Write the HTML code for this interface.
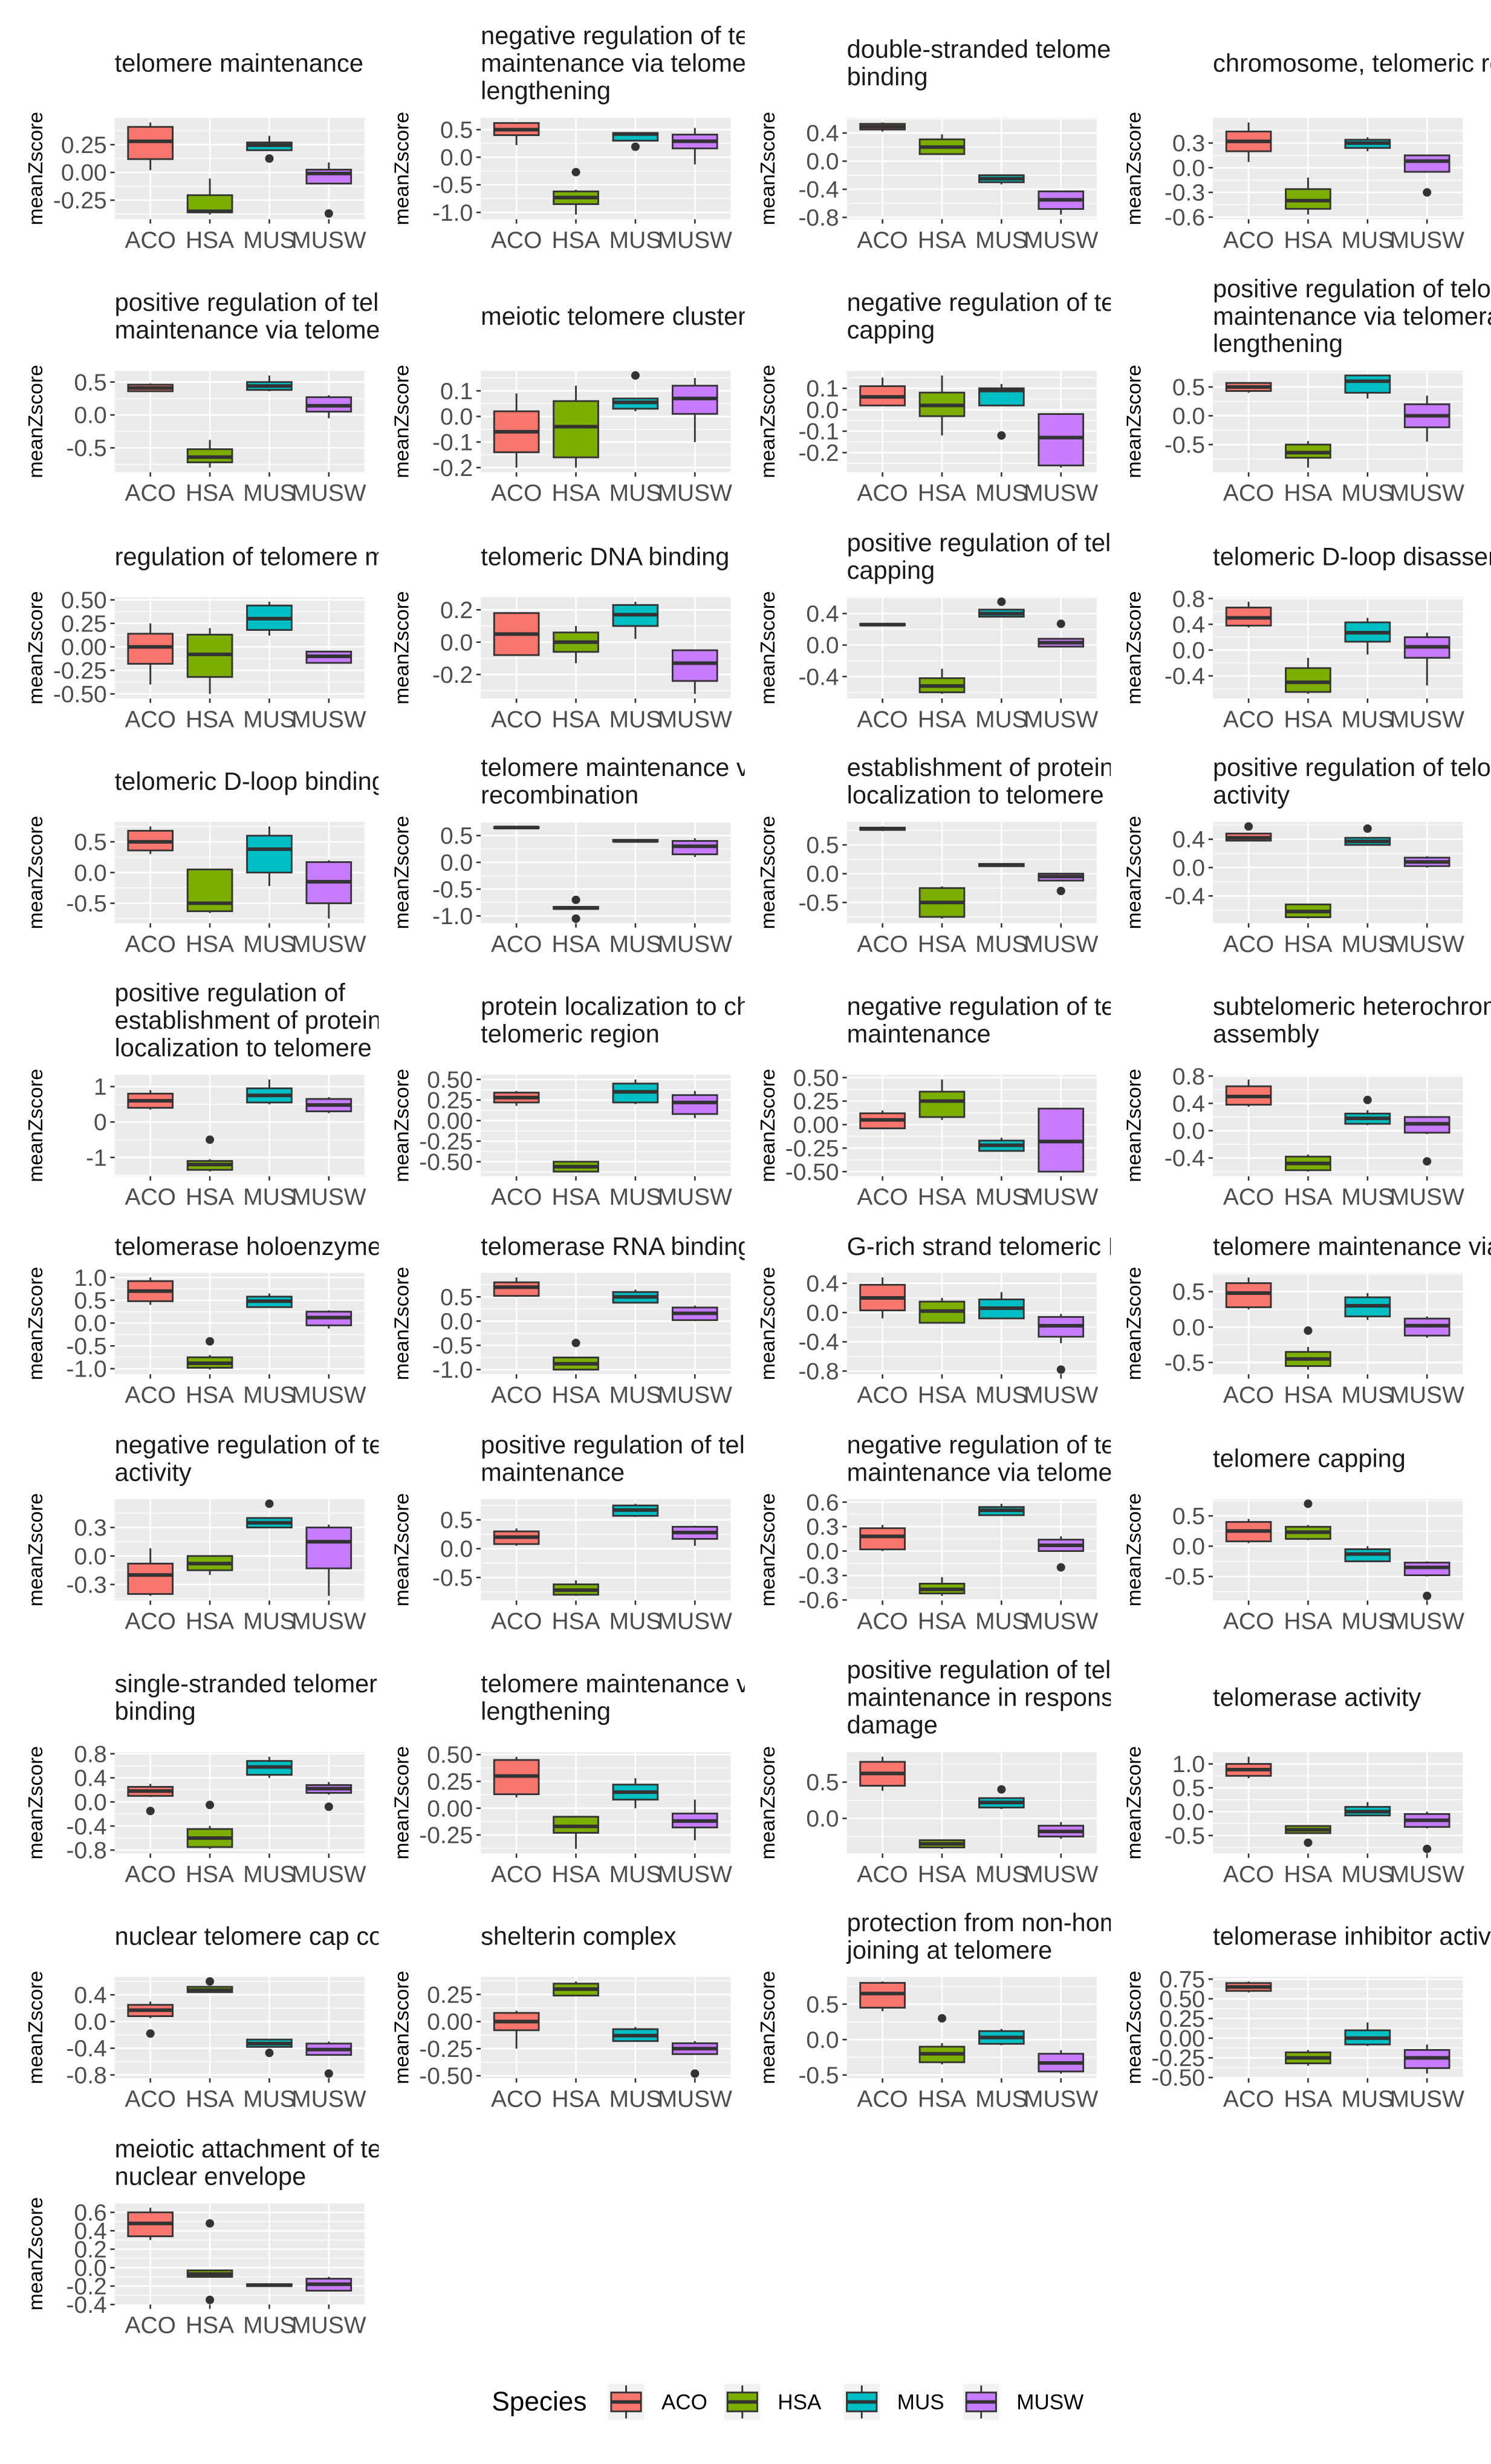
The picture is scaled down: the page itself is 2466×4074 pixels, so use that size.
<!DOCTYPE html>
<html><head><meta charset="utf-8"><title>meanZscore boxplots</title>
<style>
html,body{margin:0;padding:0;background:#fff;}
svg{display:block;}
text{font-family:"Liberation Sans",Arial,sans-serif;}
</style></head>
<body>
<svg id="chart" xmlns="http://www.w3.org/2000/svg" width="2466" height="4074" viewBox="0 0 949 1568" preserveAspectRatio="none">
<rect x="0" y="0" width="949" height="1568" fill="#ffffff"/>
</svg>
<script>
const cats = ["ACO","HSA","MUS","MUSW"];
const colors = ["#F8766D","#7CAE00","#00BFC4","#C77CFF"];
const titles = [
["telomere maintenance"],
["negative regulation of telomere","maintenance via telomerase","lengthening"],
["double-stranded telomeric DNA","binding"],
["chromosome, telomeric region"],
["positive regulation of telomere","maintenance via telomerase"],
["meiotic telomere clustering"],
["negative regulation of telomere","capping"],
["positive regulation of telomere","maintenance via telomerase","lengthening"],
["regulation of telomere maintenance"],
["telomeric DNA binding"],
["positive regulation of telomere","capping"],
["telomeric D-loop disassembly"],
["telomeric D-loop binding"],
["telomere maintenance via","recombination"],
["establishment of protein","localization to telomere"],
["positive regulation of telomerase","activity"],
["positive regulation of","establishment of protein","localization to telomere"],
["protein localization to chromosome,","telomeric region"],
["negative regulation of telomere","maintenance"],
["subtelomeric heterochromatin","assembly"],
["telomerase holoenzyme complex"],
["telomerase RNA binding"],
["G-rich strand telomeric DNA binding"],
["telomere maintenance via telomerase"],
["negative regulation of telomerase","activity"],
["positive regulation of telomere","maintenance"],
["negative regulation of telomere","maintenance via telomerase"],
["telomere capping"],
["single-stranded telomeric DNA","binding"],
["telomere maintenance via","lengthening"],
["positive regulation of telomere","maintenance in response to DNA","damage"],
["telomerase activity"],
["nuclear telomere cap complex"],
["shelterin complex"],
["protection from non-homologous end","joining at telomere"],
["telomerase inhibitor activity"],
["meiotic attachment of telomere to","nuclear envelope"]
];
const tickVals = [
[0.25,0,-0.25],[0.5,0,-0.5,-1],[0.4,0,-0.4,-0.8],[0.3,0,-0.3,-0.6],
[0.5,0,-0.5],[0.1,0,-0.1,-0.2],[0.1,0,-0.1,-0.2],[0.5,0,-0.5,-1],
[0.5,0.25,0,-0.25,-0.5],[0.2,0,-0.2],[0.4,0,-0.4],[0.8,0.4,0,-0.4],
[0.5,0,-0.5],[0.5,0,-0.5,-1],[0.5,0,-0.5,-1],[0.4,0,-0.4,-0.8],
[1,0,-1],[0.5,0.25,0,-0.25,-0.5],[0.5,0.25,0,-0.25,-0.5],[0.8,0.4,0,-0.4],
[1,0.5,0,-0.5,-1],[0.5,0,-0.5,-1],[0.4,0,-0.4,-0.8],[0.5,0,-0.5],
[0.3,0,-0.3],[0.5,0,-0.5],[0.6,0.3,0,-0.3,-0.6],[0.5,0,-0.5],
[0.8,0.4,0,-0.4,-0.8],[0.5,0.25,0,-0.25],[0.5,0,-0.5],[1,0.5,0,-0.5],
[0.4,0,-0.4,-0.8],[0.25,0,-0.25,-0.5],[0.5,0,-0.5],[0.75,0.5,0.25,0,-0.25,-0.5],
[0.6,0.4,0.2,0,-0.2,-0.4]
];
const tickText = [
["0.25","0.00","-0.25"],["0.5","0.0","-0.5","-1.0"],["0.4","0.0","-0.4","-0.8"],["0.3","0.0","-0.3","-0.6"],
["0.5","0.0","-0.5"],["0.1","0.0","-0.1","-0.2"],["0.1","0.0","-0.1","-0.2"],["0.5","0.0","-0.5","-1.0"],
["0.50","0.25","0.00","-0.25","-0.50"],["0.2","0.0","-0.2"],["0.4","0.0","-0.4"],["0.8","0.4","0.0","-0.4"],
["0.5","0.0","-0.5"],["0.5","0.0","-0.5","-1.0"],["0.5","0.0","-0.5","-1.0"],["0.4","0.0","-0.4","-0.8"],
["1","0","-1"],["0.50","0.25","0.00","-0.25","-0.50"],["0.50","0.25","0.00","-0.25","-0.50"],["0.8","0.4","0.0","-0.4"],
["1.0","0.5","0.0","-0.5","-1.0"],["0.5","0.0","-0.5","-1.0"],["0.4","0.0","-0.4","-0.8"],["0.5","0.0","-0.5"],
["0.3","0.0","-0.3"],["0.5","0.0","-0.5"],["0.6","0.3","0.0","-0.3","-0.6"],["0.5","0.0","-0.5"],
["0.8","0.4","0.0","-0.4","-0.8"],["0.50","0.25","0.00","-0.25"],["0.5","0.0","-0.5"],["1.0","0.5","0.0","-0.5"],
["0.4","0.0","-0.4","-0.8"],["0.25","0.00","-0.25","-0.50"],["0.5","0.0","-0.5"],["0.75","0.50","0.25","0.00","-0.25","-0.50"],
["0.6","0.4","0.2","0.0","-0.2","-0.4"]
];
// [low whisker, q1, median, q3, high whisker] for ACO, HSA, MUS, MUSW
const stats = [
[[0.02,0.12,0.28,0.41,0.45],[-0.38,-0.36,-0.35,-0.205,-0.055],[0.2,0.2,0.245,0.27,0.33],[-0.1,-0.1,-0.01,0.025,0.09]],
[[0.22,0.4,0.5,0.62,0.63],[-1.04,-0.85,-0.73,-0.62,-0.59],[0.3,0.3,0.42,0.44,0.45],[-0.13,0.16,0.29,0.41,0.53]],
[[0.42,0.45,0.49,0.53,0.55],[0.1,0.1,0.2,0.31,0.38],[-0.33,-0.3,-0.25,-0.2,-0.2],[-0.76,-0.68,-0.55,-0.43,-0.42]],
[[0.07,0.2,0.32,0.44,0.55],[-0.57,-0.5,-0.4,-0.26,-0.12],[0.2,0.24,0.3,0.34,0.37],[-0.05,-0.05,0.08,0.15,0.15]],
[[0.35,0.36,0.41,0.46,0.48],[-0.8,-0.72,-0.64,-0.52,-0.38],[0.36,0.38,0.44,0.5,0.6],[-0.05,0.05,0.14,0.27,0.3]],
[[-0.2,-0.14,-0.06,0.02,0.09],[-0.2,-0.16,-0.04,0.06,0.12],[0.02,0.03,0.055,0.07,0.07],[-0.1,0.01,0.07,0.12,0.15]],
[[0.02,0.02,0.06,0.11,0.15],[-0.12,-0.03,0.02,0.08,0.16],[0.02,0.02,0.09,0.1,0.12],[-0.27,-0.26,-0.13,-0.02,-0.02]],
[[0.4,0.43,0.5,0.57,0.57],[-0.9,-0.73,-0.64,-0.5,-0.44],[0.3,0.4,0.6,0.7,0.7],[-0.45,-0.2,0.0,0.2,0.35]],
[[-0.4,-0.18,0.0,0.14,0.25],[-0.5,-0.32,-0.08,0.13,0.2],[0.12,0.18,0.3,0.44,0.48],[-0.18,-0.17,-0.1,-0.05,-0.04]],
[[-0.08,-0.08,0.05,0.18,0.18],[-0.13,-0.06,0.0,0.06,0.1],[0.02,0.1,0.17,0.23,0.25],[-0.32,-0.24,-0.13,-0.05,-0.05]],
[[0.25,0.25,0.26,0.27,0.27],[-0.62,-0.6,-0.52,-0.42,-0.3],[0.36,0.36,0.4,0.45,0.45],[-0.02,-0.02,0.03,0.08,0.08]],
[[0.35,0.38,0.5,0.66,0.75],[-0.68,-0.65,-0.5,-0.28,-0.12],[-0.07,0.13,0.27,0.43,0.5],[-0.55,-0.12,0.05,0.2,0.27]],
[[0.3,0.36,0.5,0.68,0.75],[-0.66,-0.63,-0.5,0.05,0.05],[-0.22,0.0,0.38,0.6,0.75],[-0.75,-0.5,-0.15,0.17,0.2]],
[[0.63,0.64,0.65,0.66,0.67],[-0.88,-0.87,-0.85,-0.83,-0.82],[0.38,0.39,0.4,0.42,0.43],[0.1,0.15,0.3,0.4,0.45]],
[[0.74,0.76,0.78,0.8,0.82],[-0.78,-0.75,-0.5,-0.25,-0.22],[0.12,0.13,0.15,0.17,0.18],[-0.12,-0.12,-0.05,0.0,0.0]],
[[0.38,0.38,0.42,0.48,0.48],[-0.72,-0.7,-0.62,-0.52,-0.52],[0.32,0.32,0.37,0.42,0.42],[0.0,0.02,0.08,0.14,0.16]],
[[0.35,0.4,0.6,0.8,0.9],[-1.4,-1.35,-1.2,-1.1,-1.05],[0.5,0.55,0.75,0.95,1.2],[0.25,0.3,0.48,0.65,0.7]],
[[0.18,0.22,0.28,0.34,0.36],[-0.62,-0.62,-0.56,-0.5,-0.5],[0.2,0.22,0.35,0.45,0.5],[0.03,0.08,0.22,0.31,0.36]],
[[-0.05,-0.04,0.05,0.12,0.15],[0.05,0.08,0.25,0.35,0.48],[-0.28,-0.28,-0.22,-0.17,-0.14],[-0.5,-0.5,-0.18,0.17,0.17]],
[[0.35,0.38,0.5,0.65,0.75],[-0.6,-0.58,-0.48,-0.38,-0.35],[0.08,0.1,0.18,0.25,0.3],[-0.05,-0.03,0.1,0.2,0.2]],
[[0.4,0.48,0.7,0.92,1.0],[-1.02,-0.98,-0.88,-0.75,-0.7],[0.35,0.35,0.48,0.58,0.65],[-0.12,-0.05,0.12,0.25,0.28]],
[[0.5,0.52,0.7,0.8,0.9],[-1.0,-1.0,-0.88,-0.75,-0.75],[0.38,0.38,0.5,0.6,0.65],[0.0,0.02,0.16,0.28,0.32]],
[[-0.08,0.03,0.2,0.38,0.48],[-0.14,-0.14,0.02,0.15,0.2],[-0.08,-0.08,0.06,0.18,0.28],[-0.42,-0.33,-0.18,-0.06,-0.02]],
[[0.25,0.28,0.48,0.62,0.7],[-0.6,-0.55,-0.45,-0.35,-0.28],[0.1,0.15,0.3,0.42,0.48],[-0.15,-0.12,0.02,0.12,0.15]],
[[-0.42,-0.4,-0.2,-0.08,0.08],[-0.2,-0.15,-0.08,0.0,0.0],[0.3,0.3,0.35,0.4,0.4],[-0.42,-0.13,0.15,0.3,0.33]],
[[0.05,0.08,0.2,0.3,0.35],[-0.82,-0.8,-0.72,-0.62,-0.55],[0.55,0.57,0.67,0.75,0.78],[0.05,0.17,0.28,0.38,0.4]],
[[0.0,0.02,0.18,0.28,0.32],[-0.55,-0.52,-0.47,-0.4,-0.32],[0.44,0.44,0.5,0.54,0.58],[0.0,0.0,0.07,0.14,0.18]],
[[0.05,0.08,0.25,0.4,0.45],[0.1,0.12,0.23,0.32,0.35],[-0.25,-0.25,-0.13,-0.05,0.0],[-0.5,-0.48,-0.35,-0.27,-0.25]],
[[0.08,0.1,0.18,0.25,0.3],[-0.78,-0.75,-0.6,-0.45,-0.4],[0.4,0.45,0.58,0.68,0.75],[0.12,0.15,0.22,0.28,0.33]],
[[0.1,0.13,0.3,0.45,0.48],[-0.38,-0.23,-0.17,-0.08,-0.07],[0.0,0.08,0.15,0.22,0.28],[-0.3,-0.18,-0.12,-0.05,0.08]],
[[0.38,0.45,0.62,0.78,0.85],[-0.42,-0.4,-0.35,-0.3,-0.3],[0.13,0.15,0.22,0.28,0.28],[-0.28,-0.25,-0.18,-0.1,-0.05]],
[[0.7,0.75,0.88,1.0,1.15],[-0.45,-0.45,-0.38,-0.3,-0.28],[-0.08,-0.08,0.0,0.1,0.2],[-0.35,-0.32,-0.18,-0.05,0.0]],
[[0.05,0.08,0.17,0.25,0.3],[0.43,0.44,0.47,0.52,0.52],[-0.38,-0.38,-0.33,-0.27,-0.27],[-0.5,-0.5,-0.42,-0.33,-0.3]],
[[-0.25,-0.08,0.0,0.08,0.1],[0.24,0.24,0.3,0.35,0.37],[-0.18,-0.18,-0.13,-0.07,-0.05],[-0.3,-0.3,-0.25,-0.2,-0.18]],
[[0.4,0.45,0.65,0.8,0.82],[-0.35,-0.32,-0.2,-0.1,-0.05],[-0.08,-0.06,0.03,0.12,0.15],[-0.48,-0.45,-0.33,-0.2,-0.15]],
[[0.58,0.6,0.65,0.7,0.72],[-0.35,-0.32,-0.25,-0.18,-0.15],[-0.1,-0.08,0.0,0.1,0.2],[-0.45,-0.38,-0.25,-0.15,-0.08]],
[[0.3,0.34,0.48,0.6,0.65],[-0.1,-0.1,-0.07,-0.03,-0.02],[-0.2,-0.2,-0.19,-0.18,-0.18],[-0.25,-0.25,-0.18,-0.12,-0.1]]
];
const outliers = [
[[],[],[0.125],[-0.37]],
[[],[-0.27],[0.19],[]],
[[],[],[],[]],
[[],[],[],[-0.3]],
[[],[],[],[]],
[[],[],[0.16],[]],
[[],[],[-0.12],[]],
[[],[],[],[]],
[[],[],[],[]],
[[],[],[],[]],
[[],[],[0.55],[0.27]],
[[],[],[],[]],
[[],[],[],[]],
[[],[-0.7,-1.05],[],[]],
[[],[],[],[-0.3]],
[[0.58],[],[0.55],[]],
[[],[-0.5],[],[]],
[[],[],[],[]],
[[],[],[],[]],
[[],[],[0.45],[-0.45]],
[[],[-0.4],[],[]],
[[],[-0.45],[],[]],
[[],[],[],[-0.78]],
[[],[-0.05],[],[]],
[[],[],[0.55],[]],
[[],[],[],[]],
[[],[],[],[-0.2]],
[[],[0.7],[],[-0.82]],
[[-0.15],[-0.05],[],[-0.08]],
[[],[],[],[]],
[[],[],[0.4],[]],
[[],[-0.65],[],[-0.78]],
[[-0.18],[0.6],[-0.47],[-0.78]],
[[],[],[],[-0.48]],
[[],[0.3],[],[]],
[[],[],[],[]],
[[],[0.48,-0.35],[],[]]
];
const rowTops = [75,236,380,523,684,810,954,1115,1258,1402];
const rowLines = [3,3,2,2,3,1,2,3,2,2];

const NS = "http://www.w3.org/2000/svg";
const svg = document.getElementById("chart");
const PW = 159, PH = 64.5;
function mk(tag, attrs, parent){
  const e = document.createElementNS(NS, tag);
  for (const k in attrs) e.setAttribute(k, attrs[k]);
  (parent||svg).appendChild(e);
  return e;
}
const defs = mk("defs", {});
for (let c = 0; c < 4; c++) {
  const cp = mk("clipPath", {id: "clipcol" + c}, defs);
  mk("rect", {x: 73 + 233*c - 5, y: 0, width: c === 3 ? 200 : 173, height: 1568}, cp);
}

stats.forEach((panel, i) => {
  const row = Math.floor(i/4), col = i % 4;
  const left = 73 + 233*col, top = rowTops[row], bottom = top + PH;
  const g = mk("g", {});
  
  
  let vals = [];
  panel.forEach((s, k) => { vals = vals.concat(s, outliers[i][k]); });
  const mn = Math.min(...vals), mx = Math.max(...vals), R = (mx - mn) || 1;
  const lo = mn - 0.05*R, hi = mx + 0.05*R;
  const y = v => top + (hi - v) / (hi - lo) * PH;
  const unit = PW / 4.2;
  const x = c => left + (0.6 + c) * unit;

  const bg = mk("rect", {x: left, y: top, width: PW, height: PH, fill: "#EBEBEB"}, g);
  
  
  const tv = tickVals[i];
  const step = tv.length > 1 ? tv[0] - tv[1] : 0.5;
  for (let k = -1; k < tv.length; k++) {
    const mv = (k < 0 ? tv[0] + step/2 : tv[k] - step/2);
    if (mv > lo && mv < hi) mk("line", {x1: left, x2: left+PW, y1: y(mv), y2: y(mv), stroke: "#fff", "stroke-width": 0.5}, g);
  }
  tv.forEach(v => {
    if (v >= lo && v <= hi) mk("line", {x1: left, x2: left+PW, y1: y(v), y2: y(v), stroke: "#fff", "stroke-width": 1}, g);
  });
  cats.forEach((c, k) => mk("line", {x1: x(k), x2: x(k), y1: top, y2: bottom, stroke: "#fff", "stroke-width": 1}, g));

  tv.forEach((v, k) => {
    if (v < lo - 1e-9 || v > hi + 1e-9) return;
    mk("line", {x1: left-2.8, x2: left, y1: y(v), y2: y(v), stroke: "#333", "stroke-width": 1}, g);
    const t = mk("text", {x: left-5, y: y(v), dy: "0.35em", "text-anchor": "end", "font-size": 15, fill: "#4D4D4D"}, g);
    t.textContent = tickText[i][k];
    
    
  });
  cats.forEach((c, k) => {
    mk("line", {x1: x(k), x2: x(k), y1: bottom, y2: bottom+2.8, stroke: "#333", "stroke-width": 1}, g);
    const t = mk("text", {x: x(k), y: bottom+13, dy: "0.35em", "text-anchor": "middle", "font-size": 15, fill: "#4D4D4D"}, g);
    t.textContent = c;
    
    
  });
  const yt = mk("text", {x: 0, y: 0, "text-anchor": "middle", "font-size": 13, fill: "#000",
    transform: "translate(" + (left-46) + "," + (top+PH/2) + ") rotate(-90)"}, g);
  yt.textContent = "meanZscore";
  
  
  const N = rowLines[row], n = titles[i].length;
  const center = top - 17 - 9*(N-1);
  const tg = mk("g", {"clip-path": "url(#clipcol" + col + ")"}, g);
  titles[i].forEach((line, li) => {
    const t = mk("text", {x: left, y: center + (li - (n-1)/2)*17.5, dy: "0.35em", "font-size": 16, fill: "#1A1A1A"}, tg);
    t.textContent = line;
    
    
  });
  const bw = 0.75 * unit;
  panel.forEach((s, k) => {
    const [wl, q1, md, q3, wh] = s;
    const bg2 = mk("g", {}, g);
    
    
    mk("line", {x1: x(k), x2: x(k), y1: y(wh), y2: y(q3), stroke: "#333", "stroke-width": 1.1}, bg2);
    mk("line", {x1: x(k), x2: x(k), y1: y(q1), y2: y(wl), stroke: "#333", "stroke-width": 1.1}, bg2);
    mk("rect", {x: x(k)-bw/2, y: y(q3), width: bw, height: Math.max(0.01, y(q1)-y(q3)), fill: colors[k], stroke: "#333", "stroke-width": 1.1}, bg2);
    mk("line", {x1: x(k)-bw/2, x2: x(k)+bw/2, y1: y(md), y2: y(md), stroke: "#333", "stroke-width": 2.3}, bg2);
    outliers[i][k].forEach(o => {
      const c = mk("circle", {cx: x(k), cy: y(o), r: 2.7, fill: "#333"}, bg2);
      
      
    });
  });
});

const lg = mk("g", {});


const lt = mk("text", {x: 313, y: 1528, dy: "0.35em", "font-size": 17, fill: "#000"}, lg);
lt.textContent = "Species";


const keyX = [387, 461, 537, 613];
cats.forEach((c, k) => {
  const kg = mk("g", {}, lg);
  
  
  const kx = keyX[k];
  mk("rect", {x: kx, y: 1517, width: 23, height: 23, fill: "#F2F2F2"}, kg);
  mk("line", {x1: kx+11.5, x2: kx+11.5, y1: 1518, y2: 1539, stroke: "#333", "stroke-width": 1.1}, kg);
  mk("rect", {x: kx+2, y: 1522.5, width: 19, height: 12, fill: colors[k], stroke: "#333", "stroke-width": 1.1}, kg);
  mk("line", {x1: kx+2, x2: kx+21, y1: 1528.5, y2: 1528.5, stroke: "#333", "stroke-width": 2.2}, kg);
  const t = mk("text", {x: kx+34, y: 1528.5, dy: "0.35em", "font-size": 13.5, fill: "#000"}, kg);
  t.textContent = c;
});
</script>
</body></html>
